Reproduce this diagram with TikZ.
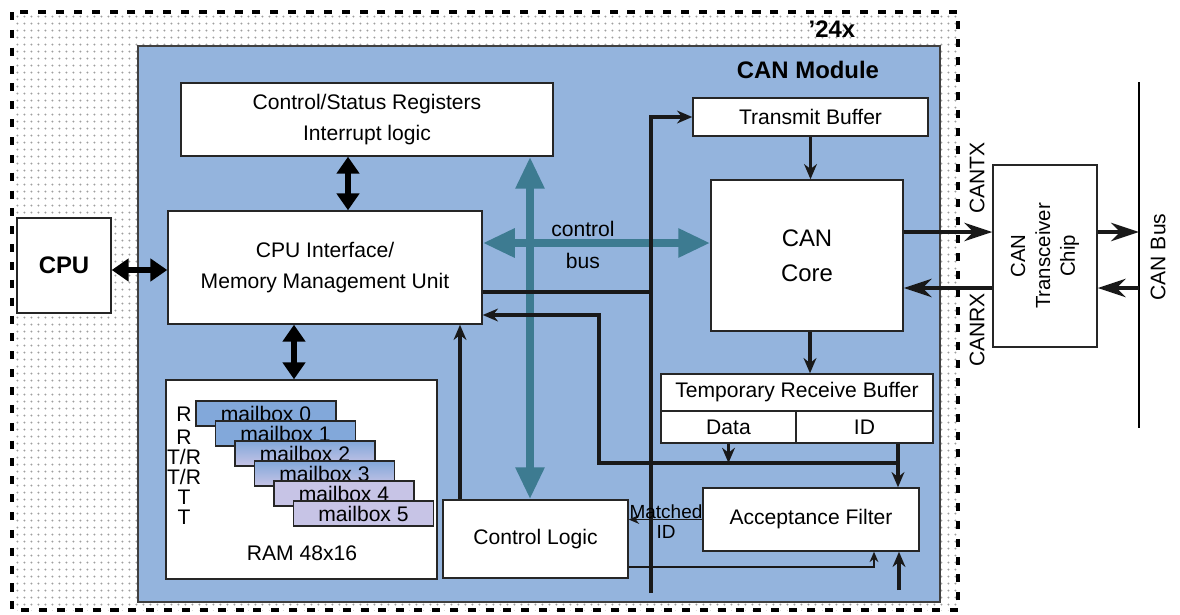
\documentclass[tikz,border=0pt]{standalone}
\usepackage{fontspec}
\setmainfont{Liberation Sans}
\usetikzlibrary{arrows.meta,patterns.meta}
\definecolor{modblue}{HTML}{94B4DD}
\definecolor{busteal}{HTML}{3D7B91}
\definecolor{mbblue}{HTML}{82A8DA}
\definecolor{mblav}{HTML}{C7C4E6}
\tikzdeclarepattern{name=griddots,type=uncolored,
  bounding box={(0pt,0pt) and (5.3pt,5.3pt)},tile size={(5.3pt,5.3pt)},
  code={\fill (2.65pt,2.65pt) circle (0.8pt);}}

\begin{document}
\begin{tikzpicture}[x=0.025cm,y=-0.025cm,
  font=\fontsize{15}{22.7}\selectfont,
  blk/.style={draw=black!85,line width=1pt,fill=white,inner sep=0pt,align=center},
  fat/.style={line width=3.8pt,>={Triangle[length=0.42cm,width=0.55cm]},<->},
  cbus/.style={busteal,line width=5.8pt,>={Triangle[length=0.8cm,width=0.68cm]},<->},
  conn/.style={line width=2.2pt,black!90},
  arrowtip/.style={-{Stealth[length=0.38cm,width=0.32cm]}},
  bigarrow/.style={-{Stealth[length=0.7cm,width=0.46cm]}},
  slim/.style={line width=1pt,black!90,-{Stealth[length=0.26cm,width=0.22cm]}}]
\useasboundingbox (0,0) rectangle (1180,614);
\fill[pattern=griddots,pattern color=black!38] (12,12) rectangle (958,610);
\draw[line width=2.4pt,dash pattern=on 5.7pt off 7pt] (12,12) rectangle (958,610);
\node[font=\fontsize{17}{20}\selectfont\bfseries] (chip) at (832,29) {'24x};
\draw[draw=black!75,line width=0.8pt,fill=modblue] (138,46) rectangle (940,602);
\node[font=\fontsize{17}{20}\selectfont\bfseries] (modlbl) at (808,70) {CAN Module};

\node[blk,minimum width=9.3cm,minimum height=1.825cm] (csr) at (367,119.5) {Control/Status Registers\\Interrupt logic};
\node[blk,minimum width=7.85cm,minimum height=2.825cm] (cpuif) at (325,267.5) {CPU Interface/\\Memory Management Unit};
\node[blk,minimum width=2.35cm,minimum height=2.375cm,font=\fontsize{17}{20}\selectfont\bfseries] (cpu) at (64,265.5) {CPU};
\node[blk,minimum width=6.775cm,minimum height=4.975cm] (ram) at (301.5,479.5) {};
\node (ramlbl) at (302,553) {RAM 48x16};
\foreach \i/\ct/\cb in {0/mbblue/mbblue,1/mbblue/mbblue,2/mbblue/mblav,3/mbblue/mblav,4/mblav/mblav,5/mblav/mblav}
  \node[draw=black!85,line width=1pt,top color=\ct,bottom color=\cb,minimum width=3.5cm,minimum height=0.625cm,inner sep=0pt] (mb\i) at (266+19.5*\i,413.5+20*\i) {mailbox \i};
\foreach \t/\yy [count=\k] in {R/414,R/437,T\slash R/457,T\slash R/477,T/497,T/517}
  \node (mode\k) at (184,\yy) {\t};

\node[blk,minimum width=4.625cm,minimum height=1.95cm] (ctl) at (535.5,539) {Control Logic};
\node[blk,minimum width=5.4cm,minimum height=1.575cm] (acc) at (811,519.5) {Acceptance Filter};
\node[blk,minimum width=6.8cm,minimum height=0.925cm] (trbhead) at (797,392.5) {Temporary Receive Buffer};
\node[blk,minimum width=3.375cm,minimum height=0.8cm] (trbdata) at (728.5,427) {Data};
\node[blk,minimum width=3.425cm,minimum height=0.8cm] (trbid) at (864.5,427) {ID};
\node[blk,minimum width=5.875cm,minimum height=0.95cm] (txb) at (810.5,117) {Transmit Buffer};
\node[blk,minimum width=4.8cm,minimum height=3.775cm,font=\fontsize{17}{25}\selectfont] (core) at (807,255.5) {CAN\\Core};
\node[blk,minimum width=2.6cm,minimum height=4.55cm] (xcvr) at (1045,256) {};
\node[rotate=90,align=center,font=\fontsize{14.5}{17.7}\selectfont] (xcvrlbl) at (xcvr) {CAN\\Transceiver\\Chip};
\node[rotate=90] (txlbl) at (977,178) {CANTX};
\node[rotate=90] (rxlbl) at (977,330) {CANRX};
\node[rotate=90] (buslbl) at (1158,257) {CAN Bus};
\node[align=center] (cbuslbl) at (583,245) {control\\bus};

\coordinate (bustop) at (1139,82);
\coordinate (busbot) at (1139,428);
\draw[line width=1.8pt] (bustop) -- (busbot);

\draw[fat] (cpu.east |- 0,270) -- (cpuif.west |- 0,270);
\draw[fat] (csr.south -| 348,0) -- (cpuif.north -| 348,0);
\draw[fat] (cpuif.south -| 294,0) -- (ram.north -| 294,0);
\draw[cbus] (cpuif.east |- 0,243) -- (core.west |- 0,243);
\draw[cbus] (csr.south -| 530,0) -- (ctl.north -| 530,0);

\coordinate (tail) at (651,593);
\draw[conn,arrowtip] (tail) |- (txb.west);
\draw[conn] (cpuif.east |- 0,292) -- (tail |- 0,292);
\coordinate (rx) at (898,463);
\draw[conn,arrowtip] (rx) -- (rx -| 599,0) |- (cpuif.east |- 0,315);
\draw[conn,arrowtip] (trbdata.south) -- (trbdata.south |- rx);
\draw[conn,arrowtip] (trbid.south -| rx) -- (acc.north -| rx);
\draw[conn,arrowtip] (ctl.north -| 460,0) -- (cpuif.south -| 460,0);
\draw[slim] (acc.west) -- (acc.west -| ctl.east);
\node[font=\fontsize{13.5}{14.2}\selectfont,align=center] (matchlbl) at (666,522) {Matched\\ID};
\draw[slim] (ctl.east |- 0,567) -| (acc.south -| 874,0);
\coordinate (accin) at (899,590);
\draw[conn,arrowtip] (accin) -- (acc.south -| accin);
\draw[conn,arrowtip] (txb.south) -- (txb.south |- core.north);
\draw[conn,arrowtip] (core.south -| 810,0) -- (trbhead.north -| 810,0);
\draw[conn,bigarrow] (core.east |- 0,232) -- (xcvr.west |- 0,232);
\draw[conn,bigarrow] (xcvr.west |- 0,288) -- (core.east |- 0,288);
\draw[conn,bigarrow] (xcvr.east |- 0,232) -- (bustop |- 0,232);
\draw[conn,bigarrow] (bustop |- 0,288) -- (xcvr.east |- 0,288);
\end{tikzpicture}
\end{document}
